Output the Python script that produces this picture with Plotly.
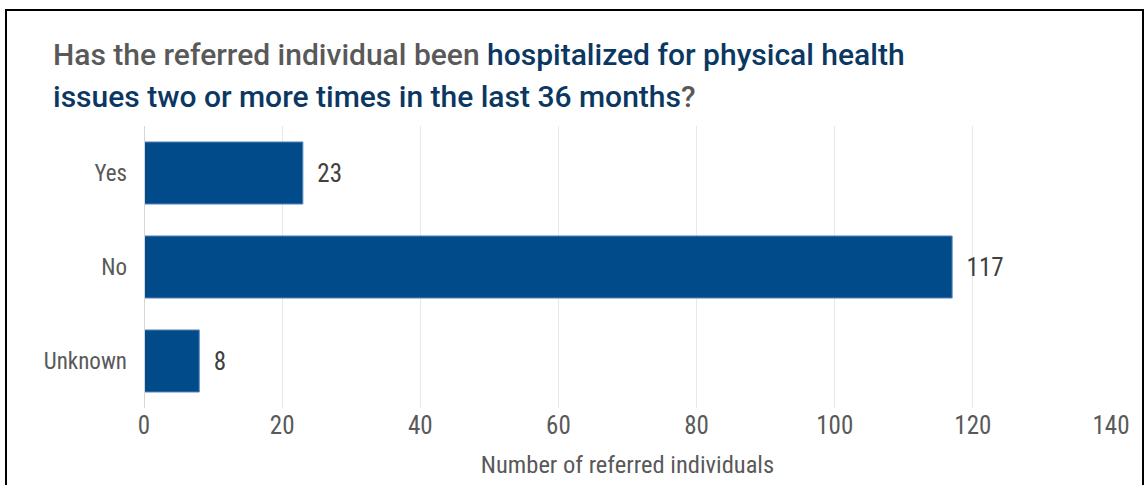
import plotly.graph_objects as go

categorias = ["Yes", "No", "Unknown"]
valores = [23, 117, 8]
ticks_x = [0, 20, 40, 60, 80, 100, 120, 140]

titulo_cinza = "Has the referred individual been "
titulo_azul_1 = "hospitalized for physical health"
titulo_azul_2 = "issues two or more times in the last 36 months"
eixo_x_titulo = "Number of referred individuals"

azul = "#024B8A"
azul_escuro = "#0B3763"
cinza = "#595959"
fonte = "Roboto Condensed, Liberation Sans Narrow, DejaVu Sans Condensed, Roboto, sans-serif"
fonte_titulo = "Roboto, Open Sans, sans-serif"

fig = go.Figure(go.Bar(
    y=categorias,
    x=valores,
    orientation="h",
    text=["\u00a0\u00a0" + str(v) for v in valores],
    textposition="outside",
    textfont=dict(size=25, color="#404040", family=fonte),
    cliponaxis=False,
    marker=dict(color=azul, line=dict(color="#5A88B8", width=1)),
))

fig.update_layout(
    width=1145,
    height=485,
    font=dict(family=fonte, size=23, color=cinza),
    margin=dict(l=144, r=34, t=126, b=77),
    bargap=0.34,
    paper_bgcolor="white",
    plot_bgcolor="white",
    showlegend=False,
    xaxis=dict(
        range=[0, 140],
        tickvals=ticks_x,
        showgrid=True,
        gridcolor="#E8E8E8",
        gridwidth=1,
        zeroline=False,
        showline=False,
        ticks="",
        tickfont=dict(size=25, color=cinza),
        title=dict(text=eixo_x_titulo, font=dict(size=24.5, color=cinza), standoff=16),
    ),
    yaxis=dict(
        autorange="reversed",
        showgrid=False,
        zeroline=False,
        showline=False,
        ticks="",
        ticklabelstandoff=16,
        tickfont=dict(size=23, color=cinza),
    ),
)

# título em duas linhas (cinza + azul), posicionado como no original
x_titulo = (51 - 144) / 967
fig.add_annotation(
    xref="paper", yref="paper", x=x_titulo, y=(408 - 54) / 282,
    xanchor="left", yanchor="middle", showarrow=False,
    text=(f"<span style='color:{cinza}'>{titulo_cinza}</span>"
          f"<span style='color:{azul_escuro}'>{titulo_azul_1}</span>"),
    font=dict(family=fonte_titulo, size=30, weight=500),
)
fig.add_annotation(
    xref="paper", yref="paper", x=x_titulo, y=(408 - 97) / 282,
    xanchor="left", yanchor="middle", showarrow=False,
    text=(f"<span style='color:{azul_escuro}'>{titulo_azul_2}</span>"
          f"<span style='color:{cinza}'>?</span>"),
    font=dict(family=fonte_titulo, size=30, weight=500),
)

# linha vertical no zero (eixo de categorias)
fig.add_shape(type="line", xref="x", yref="paper", x0=0, x1=0, y0=0, y1=1,
              line=dict(color="#D6D6D6", width=2))

# moldura preta em volta do gráfico
fig.add_shape(type="rect", xref="paper", yref="paper",
              x0=(6 - 144) / 967, x1=(1143 - 144) / 967,
              y0=(408 - 495) / 282, y1=(408 - 10) / 282,
              line=dict(color="black", width=2), layer="above")

fig.write_html("out.html", config={"displayModeBar": False},
               post_script="document.body.style.margin='0';")
